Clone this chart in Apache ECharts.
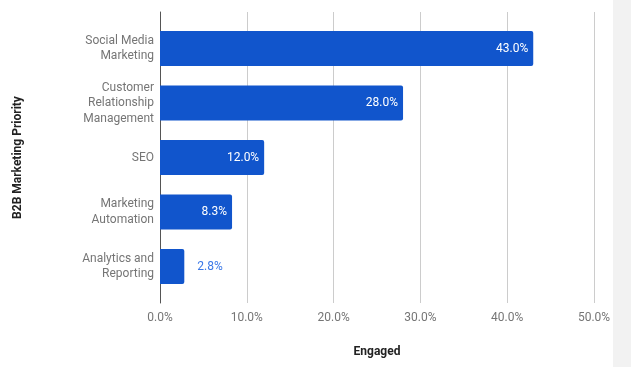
<!DOCTYPE html>
<html><head><meta charset="utf-8">
<script src="https://cdn.jsdelivr.net/npm/echarts@6/dist/echarts.min.js"></script>
<style>html,body{margin:0;padding:0;background:#fff}#c{width:631px;height:367px}</style>
</head><body><div id="c"></div>
<script>
const categories = ["Social Media\nMarketing", "Customer\nRelationship\nManagement", "SEO", "Marketing\nAutomation", "Analytics and\nReporting"];
const values = [43.0, 28.0, 12.0, 8.3, 2.8];
const xTicks = [0, 10, 20, 30, 40, 50];
const xTitle = "Engaged";
const yTitle = "B2B Marketing Priority";

const chart = echarts.init(document.getElementById('c'), null, {renderer: 'canvas'});
const F = 'Roboto, sans-serif';
chart.setOption({
  animation: false,
  textStyle: {fontFamily: F},
  graphic: [{type: 'rect', shape: {x: 613, y: 0, width: 18, height: 367}, style: {fill: '#f2f2f2'}, silent: true}],
  grid: [
    {left: 160, right: 37, top: 12, bottom: 64},
    {left: 160, right: 37, top: 21.25, bottom: 73.25}
  ],
  xAxis: [
    {gridIndex: 0, type: 'value', min: xTicks[0], max: xTicks[xTicks.length - 1], interval: 10,
     axisLine: {show: false}, axisTick: {show: false},
     splitLine: {lineStyle: {color: '#cccccc', width: 1}},
     axisLabel: {color: '#757575', fontSize: 12, fontFamily: F, margin: 9, formatter: v => v.toFixed(1) + '%'},
     name: xTitle, nameLocation: 'middle', nameGap: 43,
     nameTextStyle: {fontWeight: 'bold', color: '#222', fontSize: 12, fontFamily: F}},
    {gridIndex: 1, type: 'value', min: 0, max: 50, show: false}
  ],
  yAxis: [
    {gridIndex: 0, type: 'value', min: 0, max: 1,
     axisLine: {show: true, lineStyle: {color: '#555', width: 1}}, axisTick: {show: false},
     axisLabel: {show: false}, splitLine: {show: false},
     name: yTitle, nameLocation: 'middle', nameGap: 136,
     nameTextStyle: {fontWeight: 'bold', color: '#222', fontSize: 12, fontFamily: F}},
    {gridIndex: 1, type: 'category', data: categories, inverse: true,
     axisLine: {show: false}, axisTick: {show: false},
     axisLabel: {color: '#757575', fontSize: 12, fontFamily: F, lineHeight: 15.5, margin: 6, align: 'right'}}
  ],
  series: [{
    type: 'bar', xAxisIndex: 1, yAxisIndex: 1, barWidth: 35,
    itemStyle: {color: '#1155cc', borderRadius: [0, 2, 2, 0]},
    label: {show: true, position: 'insideRight', distance: 5, color: '#fff', fontSize: 12, fontFamily: F,
            formatter: p => p.value.toFixed(1) + '%'},
    data: values.map(v => v < 5 ? {value: v, label: {position: 'right', distance: 13, color: '#3b78e7'}} : v)
  }]
});
</script></body></html>
